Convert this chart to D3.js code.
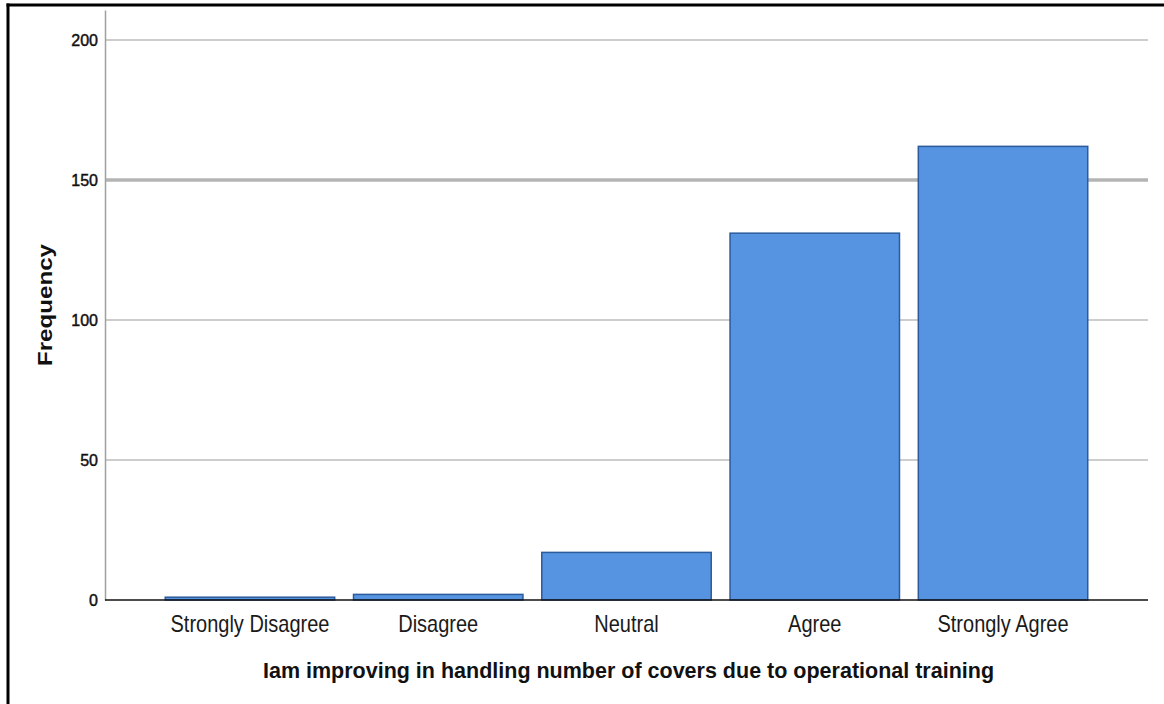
<!DOCTYPE html>
<html>
<head>
<meta charset="utf-8">
<script src="https://cdn.jsdelivr.net/npm/d3@7/dist/d3.min.js"></script>
<style>
  html, body { margin: 0; padding: 0; background: #fff; }
  svg { display: block; font-family: "Liberation Sans", Arial, sans-serif; }
</style>
</head>
<body>
<svg id="chart" width="1164" height="704"></svg>
<script>
// Response counts per answer category
const categories = ["Strongly Disagree", "Disagree", "Neutral", "Agree", "Strongly Agree"];
const frequencies = [1, 2, 17, 131, 162];
const yTicks = [0, 50, 100, 150, 200];
const yAxisMax = 210.7;
const xTitle = "Iam improving in handling number of covers due to operational training";
const yTitle = "Frequency";

const svg = d3.select("#chart");
const plot = { left: 105, right: 1148, top: 10, bottom: 600 };

const x = d3.scaleBand()
  .domain(categories)
  .range([plot.left, plot.right])
  .paddingInner(0.1)
  .paddingOuter(0.32);

const y = d3.scaleLinear()
  .domain([0, yAxisMax])
  .range([plot.bottom, plot.top]);

// outer frame (top and left edges)
svg.append("line").attr("x1", 6.5).attr("x2", 1164).attr("y1", 5).attr("y2", 5)
  .attr("stroke", "#000").attr("stroke-width", 3);
svg.append("line").attr("x1", 8).attr("x2", 8).attr("y1", 3.5).attr("y2", 704)
  .attr("stroke", "#000").attr("stroke-width", 3);

// horizontal gridlines
svg.append("g").selectAll("line")
  .data(yTicks.filter(d => d > 0))
  .join("line")
  .attr("x1", plot.left).attr("x2", plot.right)
  .attr("y1", d => y(d)).attr("y2", d => y(d))
  .attr("stroke", d => d === 150 ? "#b4b4b4" : "#bdbdbd")
  .attr("stroke-width", d => d === 150 ? 3.5 : 1.6);

// y axis with labels only
const yAxis = svg.append("g")
  .attr("transform", `translate(${plot.left},0)`)
  .call(d3.axisLeft(y).tickValues(yTicks).tickSize(0).tickPadding(7));
yAxis.select(".domain").attr("stroke", "#a0a0a0").attr("stroke-width", 1.5);
yAxis.selectAll("text")
  .attr("font-family", "Liberation Sans, Arial, sans-serif")
  .attr("font-size", 16)
  .attr("fill", "#111")
  .attr("stroke", "#111")
  .attr("stroke-width", 0.45);

// bars
svg.append("g").selectAll("rect")
  .data(categories.map((c, i) => ({ c, v: frequencies[i] })))
  .join("rect")
  .attr("x", d => x(d.c))
  .attr("y", d => y(d.v))
  .attr("width", x.bandwidth())
  .attr("height", d => y(0) - y(d.v))
  .attr("fill", "#5694e2")
  .attr("stroke", "#2c5b9c")
  .attr("stroke-width", 1.5);

// baseline
svg.append("line")
  .attr("x1", plot.left).attr("x2", plot.right)
  .attr("y1", y(0)).attr("y2", y(0))
  .attr("stroke", "#111").attr("stroke-width", 1.6);

// category labels
svg.append("g").selectAll("text")
  .data(categories)
  .join("text")
  .attr("transform", d => `translate(${x(d) + x.bandwidth() / 2},632) scale(1,1.18)`)
  .attr("text-anchor", "middle")
  .attr("font-size", 20)
  .attr("fill", "#1a1a1a")
  .text(d => d);

// x axis title
svg.append("text")
  .attr("x", (plot.left + plot.right) / 2 + 2)
  .attr("y", 678)
  .attr("text-anchor", "middle")
  .attr("font-size", 21.5)
  .attr("font-weight", "bold")
  .attr("fill", "#111")
  .text(xTitle);

// y axis title
svg.append("text")
  .attr("transform", `translate(52,${(plot.top + plot.bottom) / 2}) rotate(-90) scale(1.15,1)`)
  .attr("text-anchor", "middle")
  .attr("font-size", 21)
  .attr("font-weight", "bold")
  .attr("fill", "#111")
  .text(yTitle);
</script>
</body>
</html>
